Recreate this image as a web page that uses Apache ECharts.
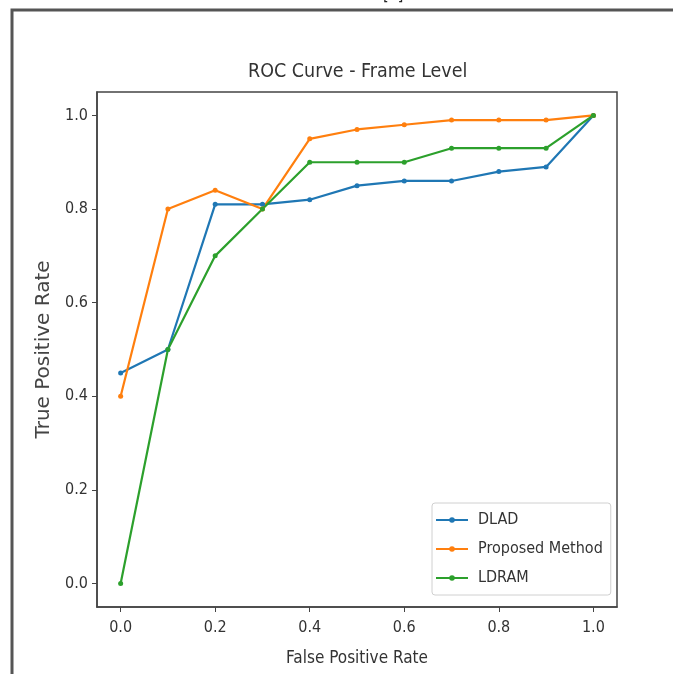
<!DOCTYPE html>
<html>
<head>
<meta charset="utf-8">
<script src="https://cdn.jsdelivr.net/npm/echarts@6/dist/echarts.min.js"></script>
<style>
    html, body { margin: 0; padding: 0; background: #fff; }
    #main { width: 673px; height: 674px; }
</style>
</head>
<body>
<div id="main"></div>
<script>
var fpr = [0.0, 0.1, 0.2, 0.3, 0.4, 0.5, 0.6, 0.7, 0.8, 0.9, 1.0];
var dlad = [0.45, 0.50, 0.81, 0.81, 0.82, 0.85, 0.86, 0.86, 0.88, 0.89, 1.0];
var proposed = [0.40, 0.80, 0.84, 0.80, 0.95, 0.97, 0.98, 0.99, 0.99, 0.99, 1.0];
var ldram = [0.0, 0.50, 0.70, 0.80, 0.90, 0.90, 0.90, 0.93, 0.93, 0.93, 1.0];
var tickValues = [0, 0.2, 0.4, 0.6, 0.8, 1.0];

var narrow = "'DejaVu Sans Condensed', 'Liberation Sans Narrow', 'DejaVu Sans', sans-serif";

function pairs(xs, ys) {
    var out = [];
    for (var i = 0; i < xs.length; i++) {
        out.push([xs[i], ys[i]]);
    }
    return out;
}

function makeSeries(name, ys, color) {
    return {
        name: name,
        type: 'line',
        data: pairs(fpr, ys),
        symbol: 'circle',
        symbolSize: 5,
        showSymbol: true,
        lineStyle: { width: 2.2, color: color },
        itemStyle: { color: color },
        emphasis: { disabled: true },
        z: 3
    };
}

var myChart = echarts.init(document.getElementById('main'));

var options = {
    backgroundColor: '#ffffff',
    animation: false,
    title: {
        text: 'ROC Curve - Frame Level',
        left: 243,
        top: 57,
        textStyle: { fontFamily: narrow, fontSize: 19.5, fontWeight: 'normal', color: '#333' }
    },
    graphic: [
        {
            type: 'polyline',
            shape: { points: [[12, 674], [12, 10], [673, 10]] },
            style: { stroke: '#555', lineWidth: 3, fill: null }
        },
        {
            type: 'text',
            left: 383,
            top: -12,
            style: { text: '[1]', font: '16px ' + narrow, fill: '#222' }
        }
    ],
    grid: {
        left: 97,
        right: 56,
        top: 92,
        bottom: 67,
        show: true,
        borderColor: '#444',
        borderWidth: 1.5,
        backgroundColor: '#fff'
    },
    legend: {
        orient: 'vertical',
        left: 432,
        top: 503,
        itemWidth: 32,
        itemHeight: 7,
        itemGap: 13,
        padding: [9, 8, 9, 3],
        backgroundColor: '#fff',
        borderColor: '#d0d0d0',
        borderWidth: 1,
        borderRadius: 3,
        textStyle: { fontFamily: narrow, fontSize: 16, color: '#333', padding: [0, 0, 0, 5] },
        data: ['DLAD', 'Proposed Method', 'LDRAM']
    },
    xAxis: {
        type: 'value',
        min: -0.05,
        max: 1.05,
        name: 'False Positive Rate',
        nameLocation: 'middle',
        nameGap: 43,
        nameTextStyle: { fontFamily: narrow, fontSize: 17, color: '#333' },
        splitLine: { show: false },
        axisLine: { show: true, onZero: false, lineStyle: { color: '#444', width: 1.5 } },
        axisTick: { show: true, length: 5, customValues: tickValues, lineStyle: { color: '#444' } },
        axisLabel: {
            customValues: tickValues,
            margin: 13,
            fontFamily: narrow,
            fontSize: 16,
            color: '#333',
            formatter: function (v) { return v.toFixed(1); }
        }
    },
    yAxis: {
        type: 'value',
        min: -0.05,
        max: 1.05,
        name: 'True Positive Rate',
        nameLocation: 'middle',
        nameGap: 39,
        nameTextStyle: { fontFamily: "'DejaVu Sans', sans-serif", fontSize: 20, color: '#444' },
        splitLine: { show: false },
        axisLine: { show: true, onZero: false, lineStyle: { color: '#444', width: 1.5 } },
        axisTick: { show: true, length: 5, customValues: tickValues, lineStyle: { color: '#444' } },
        axisLabel: {
            customValues: tickValues,
            margin: 9,
            fontFamily: narrow,
            fontSize: 16,
            color: '#333',
            formatter: function (v) { return v.toFixed(1); }
        }
    },
    series: [
        makeSeries('DLAD', dlad, '#1f77b4'),
        makeSeries('Proposed Method', proposed, '#ff7f0e'),
        makeSeries('LDRAM', ldram, '#2ca02c')
    ]
};

myChart.setOption(options);
</script>
</body>
</html>
